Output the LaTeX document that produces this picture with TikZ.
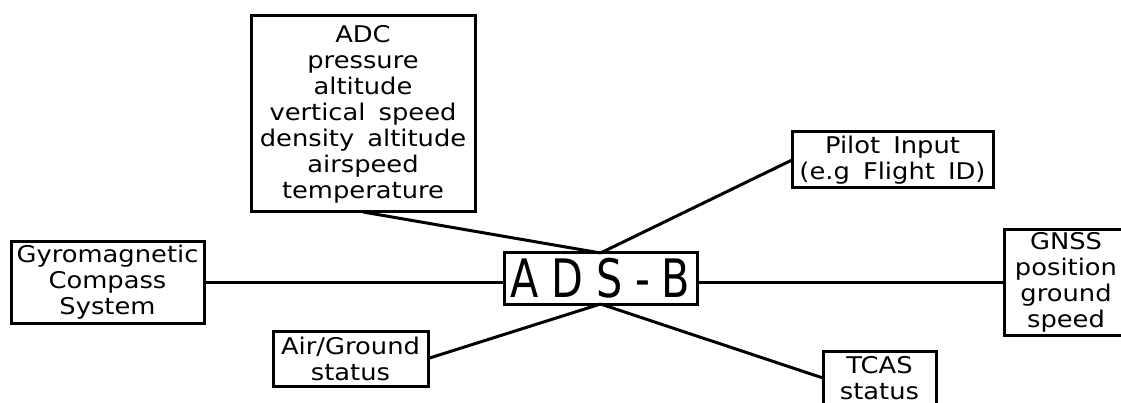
\documentclass[tikz,border=0pt]{standalone}
\usepackage{fontspec}
\newfontfamily\lblfont{DejaVu Sans}[FakeStretch=1.12,WordSpace=1.6]
\newfontfamily\adsfont{DejaVu Sans}[FakeStretch=0.78,LetterSpace=24]
\begin{document}
\begin{tikzpicture}[x=1pt,y=-1pt,
  infobox/.style={draw,line width=3pt,inner sep=0pt,outer sep=0pt,align=center,
    font=\lblfont\fontsize{23}{26}\selectfont},
  link/.style={line width=3pt}]
\useasboundingbox (0,0) rectangle (1121,403);
\clip (0,0) rectangle (1121,403);
\fill[white] (0,0) rectangle (1121,403);
\node[infobox,minimum width=224pt,minimum height=196pt] (adc) at (363,114)
  {ADC\\pressure\\altitude\\vertical speed\\density altitude\\airspeed\\temperature};
\node[infobox,minimum width=201pt,minimum height=56pt] (pilot) at (892.5,160)
  {Pilot Input\\(e.g Flight ID)};
\node[infobox,minimum width=193pt,minimum height=81pt] (gyro) at (107.5,282.5)
  {Gyromagnetic\\Compass\\System};
\node[draw,line width=3pt,inner sep=0pt,outer sep=0pt,minimum width=193pt,minimum height=51pt,
  font=\adsfont\fontsize{53}{53}\selectfont] (adsb) at (600.5,278.5) {ADS-B};
\node[infobox,minimum width=124pt,minimum height=105pt] (gnss) at (1066,282.5)
  {GNSS\\position\\ground\\speed};
\node[infobox,minimum width=155pt,minimum height=55pt] (air) at (350.5,358.5)
  {Air/Ground\\status};
\node[infobox,minimum width=113pt,minimum height=54pt] (tcas) at (879.5,378)
  {TCAS\\status};
\draw[link] (adc.south) -- (adsb.north);
\draw[link] (pilot.west) -- (adsb.north);
\draw[link] (gyro.east) -- (gyro.east -| adsb.west);
\draw[link] (gnss.west) -- (gnss.west -| adsb.east);
\draw[link] (air.east) -- (adsb.south);
\draw[link] (tcas.west) -- (adsb.south);
\end{tikzpicture}
\end{document}
